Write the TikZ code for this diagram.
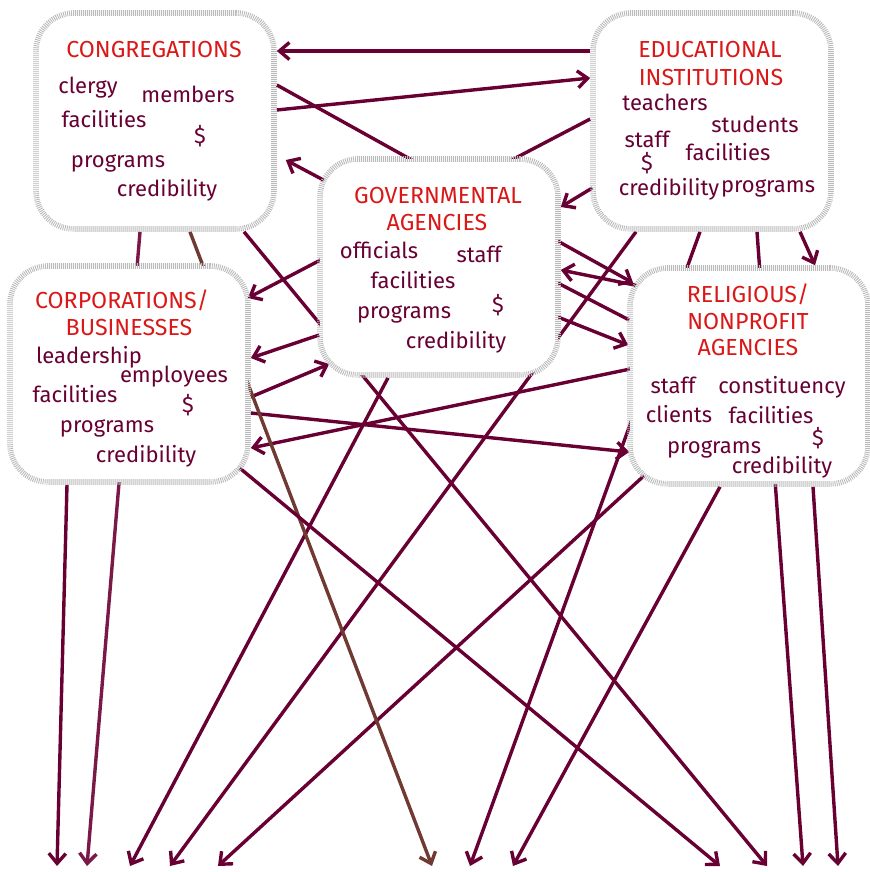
\documentclass[tikz,border=0pt]{standalone}
\usepackage{fontspec}
\setmainfont{Fira Sans}
\usetikzlibrary{arrows.meta,backgrounds,calc}
\definecolor{claret}{RGB}{104, 0, 52}
\definecolor{mulberry}{RGB}{122, 24, 74}
\definecolor{signalred}{RGB}{218, 24, 24}
\definecolor{umber}{RGB}{112, 58, 50}
\definecolor{pebble}{RGB}{186, 186, 186}

\tikzset{
  agency/.style={draw=pebble, line width=2.8pt, dash pattern=on 0.45pt off 0.55pt,
                 fill=white, rounded corners=19pt, minimum width=119pt,
                 minimum height=108pt, inner sep=0pt},
  heading/.style={text=signalred, font=\fontsize{11.6}{13}\selectfont, anchor=mid, inner sep=0pt},
  asset/.style={text=claret, font=\fontsize{11}{13}\selectfont, anchor=mid, inner sep=0pt},
  tie/.style={claret, line width=1.7pt},
  flow/.style={tie, -{Straight Barb[length=5pt,width=8.5pt]}},
}

\begin{document}
\begin{tikzpicture}[x=0.5pt, y=-0.5pt]
            \useasboundingbox (0,0) rectangle (869,872);
            % Agencies
            \node[agency] (cong)  at (155,121) {};
            \node[agency] (educ)  at (712,121) {};
            \node[agency] (gov)   at (439,267) {};
            \node[agency] (corp)  at (129,374) {};
            \node[agency] (relig) at (749,376) {};
            % Headings
            \node[heading] (cong-title)   at (154, 52) {CONGREGATIONS};
            \node[heading] (educ-title1)  at (710, 52) {EDUCATIONAL};
            \node[heading] (educ-title2)  at (711, 80) {INSTITUTIONS};
            \node[heading] (gov-title1)   at (438,198) {GOVERNMENTAL};
            \node[heading] (gov-title2)   at (437,225) {AGENCIES};
            \node[heading] (corp-title1)  at (122,303) {CORPORATIONS/};
            \node[heading] (corp-title2)  at (129,330) {BUSINESSES};
            \node[heading] (relig-title1) at (748,297) {RELIGIOUS/};
            \node[heading] (relig-title2) at (748,324) {NONPROFIT};
            \node[heading] (relig-title3) at (748,350) {AGENCIES};
            % Resources
            \foreach \word/\x/\y [count=\n] in {clergy/88/88, members/188/97, facilities/104/122,
                \$/200/138, programs/118/162, credibility/167/191}
                \node[asset] (cong-\n) at (\x,\y) {\word};
            \foreach \word/\x/\y [count=\n] in {teachers/665/105, students/755/127, staff/647/142,
                facilities/728/155, \$/647/165, credibility/669/190, programs/768/187}
                \node[asset] (educ-\n) at (\x,\y) {\word};
            \foreach \word/\x/\y [count=\n] in {officials/379/253, staff/479/257, facilities/413/283,
                \$/498/307, programs/404/313, credibility/456/343}
                \node[asset] (gov-\n) at (\x,\y) {\word};
            \foreach \word/\x/\y [count=\n] in {leadership/89/358, employees/174/377, facilities/75/397,
                \$/188/407, programs/107/427, credibility/146/457}
                \node[asset] (corp-\n) at (\x,\y) {\word};
            \foreach \word/\x/\y [count=\n] in {staff/673/388, constituency/782/388, clients/679/417,
                facilities/771/418, \$/818/440, programs/714/448, credibility/782/468}
                \node[asset] (relig-\n) at (\x,\y) {\word};
            % Loose ends at the bottom
            \foreach \x [count=\n] in {57,87,130,170,218,432,470,513,720,767,803,838}
                \coordinate (out\n) at (\x,866);

            \begin{pgfonlayer}{background}
            % Between the agencies
            \draw[flow] ($(educ.west)+(0,-70)$)     -- ($(cong.east)+(0,-70)$);
            \draw[flow] ($(cong.east)+(0,-11)$)     -- ($(educ.west)+(0,-43)$);
            \draw[flow] ($(cong.east)+(0,-36)$)     -- ($(relig.west)+(6,-93)$);
            \draw[flow] ($(gov.west)+(10,-85)$)     -- ($(cong.east)+(9,39)$);
            \draw[flow] ($(educ.west)+(0,-2)$)      -- ($(corp.east)+(-3,-76)$);
            \draw[flow] ($(educ.west)+(2,67)$)      -- ($(gov.east)+(0,-60)$);
            \draw[flow] ($(educ.south)+(88,0)$)     -- ($(relig.north)+(66,0)$);
            \draw[flow] ($(relig.west)+(17,-89)$)   -- ($(gov.east)+(0,3)$);
            \draw[tie]  ($(gov.east)+(-3,16)$)      -- ($(relig.west)+(2,-56)$);
            \draw[flow] ($(gov.east)+(-3,50)$)      -- ($(relig.west)+(1,-31)$);
            \draw[flow] ($(relig.west)+(3,-7)$)     -- ($(corp.east)+(0,74)$);
            \draw[flow] ($(corp.east)+(0,39)$)      -- ($(relig.west)+(2,76)$);
            \draw[flow] ($(corp.east)+(0,23)$)      -- ($(gov.west)+(12,97)$);
            \draw[flow] ($(gov.west)+(2,68)$)       -- ($(corp.east)+(0,-16)$);
            % Out to the bottom
            \draw[flow]           ($(corp.south)+(-62,0)$)    -- (out1);
            \draw[flow, mulberry] ($(cong.south)+(-15,0)$)    -- (out2);
            \draw[flow]           ($(gov.south)+(-51,0)$)     -- (out3);
            \draw[flow]           ($(educ.south)+(-76,0)$)    -- (out4);
            \draw[flow]           ($(relig.south)+(-104,-12)$) -- (out5);
            \draw[flow, umber]    ($(cong.south)+(35,0)$)     -- (out6);
            \draw[flow]           ($(educ.south)+(-12,0)$)    -- (out7);
            \draw[flow]           ($(relig.south)+(-29,0)$)   -- (out8);
            \draw[flow]           ($(corp.south)+(108,-19)$)  -- (out9);
            \draw[flow]           ($(cong.south)+(89,0)$)     -- (out10);
            \draw[flow]           ($(educ.south)+(45,0)$)     -- (out11);
            \draw[flow]           ($(relig.south)+(64,0)$)    -- (out12);
            \end{pgfonlayer}
\end{tikzpicture}
\end{document}
